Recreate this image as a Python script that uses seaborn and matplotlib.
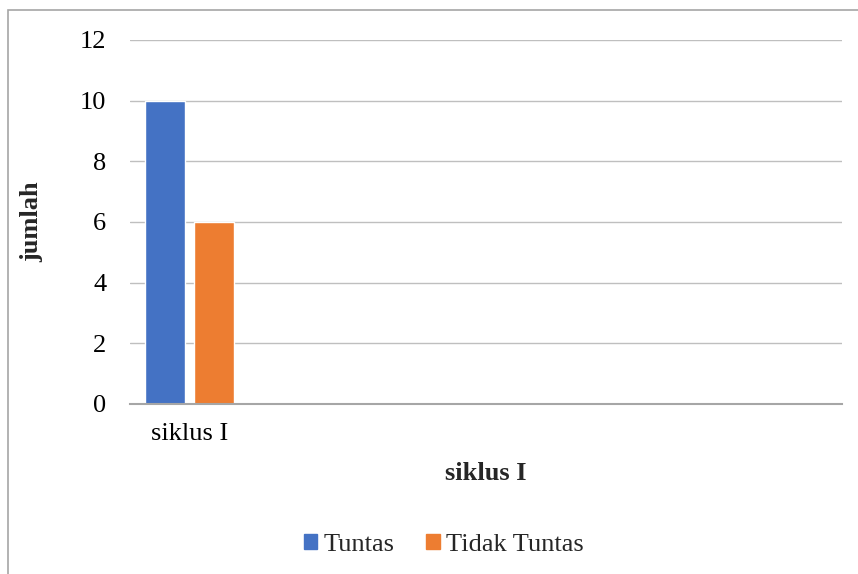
import matplotlib
matplotlib.use("Agg")
import matplotlib.pyplot as plt
import matplotlib.patches as mpatches
import seaborn as sns
import pandas as pd

# data
siklus = ["siklus I"]
tuntas = [10]
tidak_tuntas = [6]
series_names = ["Tuntas", "Tidak Tuntas"]
colors = ["#4472C4", "#ED7D31"]

df = pd.DataFrame({
    "siklus": siklus * 2,
    "status": [series_names[0]] * len(siklus) + [series_names[1]] * len(siklus),
    "jumlah": tuntas + tidak_tuntas,
})

sns.set_style("white")
plt.rcParams["font.family"] = ["Liberation Serif", "DejaVu Serif"]
FS = 19

W, H = 858, 574
fig = plt.figure(figsize=(W / 100, H / 100), dpi=100)
ax = fig.add_axes([130 / W, 1 - 404 / H, (842 - 130) / W, (404 - 40) / H])

sns.barplot(data=df, x="siklus", y="jumlah", hue="status", palette=colors,
            width=0.83, gap=0.18, ax=ax, legend=False, saturation=1)

# excel-style empty category slots to the right
ax.set_xlim(-0.5, 5.5)
ax.set_ylim(0, 12)
ax.set_yticks(range(0, 13, 2))
ax.yaxis.grid(True, color="#bfbfbf", linewidth=1)
ax.set_axisbelow(True)
for s in ["top", "right", "left"]:
    ax.spines[s].set_visible(False)
ax.spines["bottom"].set_color("#a6a6a6")
ax.spines["bottom"].set_linewidth(1.5)
ax.tick_params(axis="both", length=0, labelsize=FS, labelcolor="black")
ax.tick_params(axis="y", pad=17)
ax.tick_params(axis="x", pad=14)

ax.set_xlabel("")
ax.set_ylabel("")
fig.text(32 / W, 1 - 222 / H, "jumlah", rotation=90, fontsize=FS,
         fontweight="bold", ha="center", va="center")
fig.text(486 / W, 1 - 474 / H, "siklus I", fontsize=FS,
         fontweight="bold", ha="center", va="center")

handles = [mpatches.Patch(color=c, label=n) for c, n in zip(colors, series_names)]
fig.legend(handles=handles, loc="center", bbox_to_anchor=(444 / W, 1 - 545 / H),
           ncol=2, frameon=False, fontsize=FS, handlelength=0.5, handleheight=0.5,
           handletextpad=0.25, columnspacing=1.2)

# chart border
fig.patches.append(mpatches.Rectangle((8 / W, -0.1), 1.1, 1 - 10 / H + 0.1,
                                      transform=fig.transFigure, fill=False,
                                      edgecolor="#a6a6a6", linewidth=1.2))

fig.savefig("out.png", dpi=100)
